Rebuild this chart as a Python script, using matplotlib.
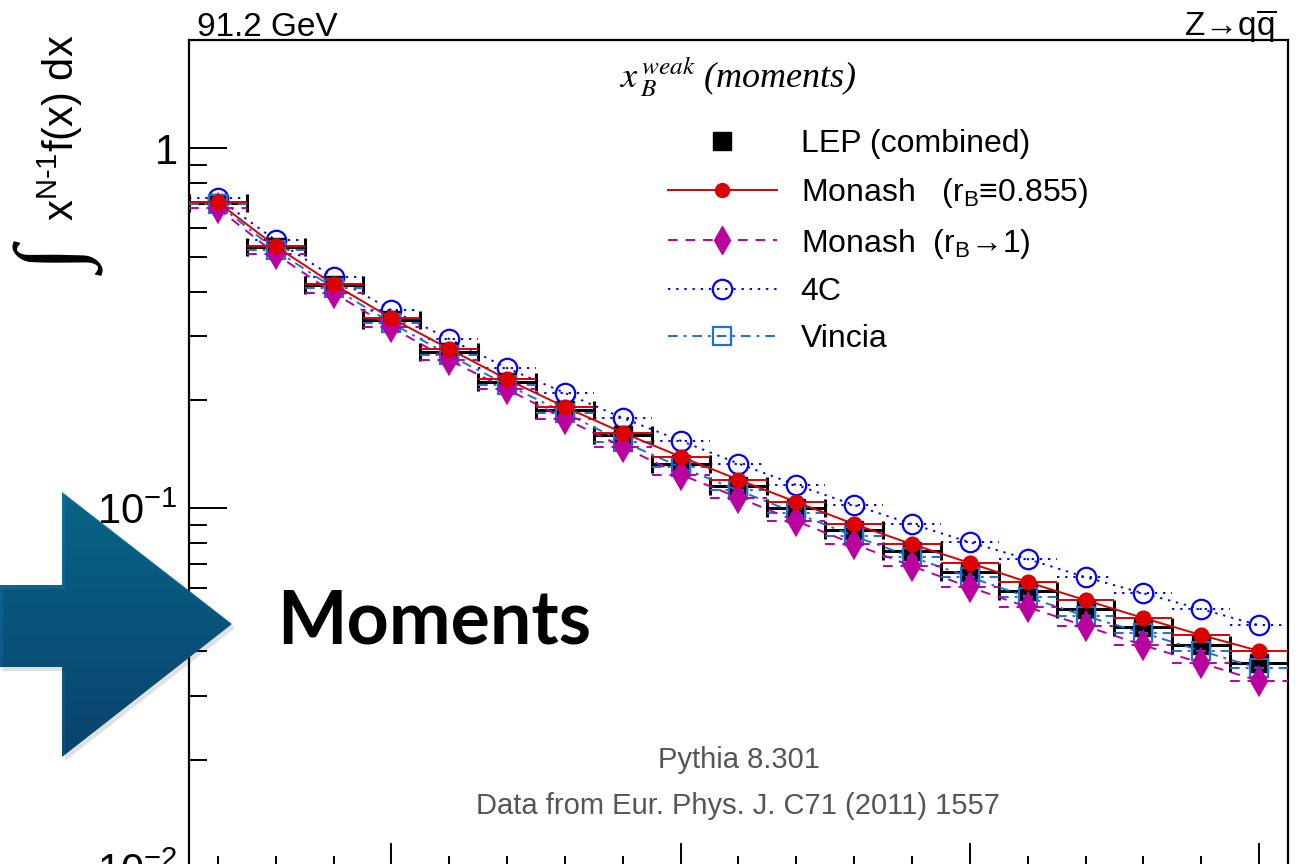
import numpy as np
import matplotlib
matplotlib.use('Agg')
import matplotlib.pyplot as plt
from matplotlib.lines import Line2D
from matplotlib.patches import Polygon
from matplotlib.colors import LinearSegmentedColormap
from matplotlib.ticker import FixedLocator, FixedFormatter, LogLocator, NullFormatter, MultipleLocator

plt.rcParams['font.family'] = ['Liberation Sans', 'DejaVu Sans']
plt.rcParams['mathtext.fontset'] = 'custom'
plt.rcParams['mathtext.rm'] = 'Liberation Sans'
plt.rcParams['mathtext.it'] = 'Liberation Sans:italic'
plt.rcParams['mathtext.bf'] = 'Liberation Sans:bold'
plt.rcParams['mathtext.sf'] = 'Liberation Sans'
plt.rcParams['mathtext.default'] = 'regular'

# moment number N and measured / predicted integrals of x^(N-1) f(x)
moment_n = [2, 3, 4, 5, 6, 7, 8, 9, 10, 11, 12, 13, 14, 15, 16, 17, 18, 19, 20]
lep = [0.704, 0.531, 0.416, 0.333, 0.271, 0.224, 0.188, 0.160, 0.133, 0.115,
       0.100, 0.0869, 0.0760, 0.0664, 0.0588, 0.0524, 0.0467, 0.0416, 0.0371]
monash = [0.708, 0.534, 0.419, 0.337, 0.277, 0.228, 0.191, 0.162, 0.139, 0.120,
          0.104, 0.0903, 0.0794, 0.0704, 0.0623, 0.0555, 0.0495, 0.0444, 0.0401]
monash_rb1 = [0.681, 0.508, 0.396, 0.318, 0.258, 0.214, 0.177, 0.148, 0.124, 0.107,
              0.0920, 0.0794, 0.0690, 0.0603, 0.0531, 0.0470, 0.0416, 0.0371, 0.0331]
tune_4c = [0.726, 0.555, 0.438, 0.355, 0.295, 0.245, 0.209, 0.178, 0.154, 0.133,
           0.116, 0.102, 0.0903, 0.0804, 0.0722, 0.0643, 0.0580, 0.0524, 0.0473]
vincia = [0.699, 0.521, 0.409, 0.327, 0.266, 0.220, 0.184, 0.153, 0.130, 0.112,
          0.0968, 0.0836, 0.0731, 0.0643, 0.0566, 0.0501, 0.0450, 0.0401, 0.0359]
bin_half = 0.5

RED = '#dd0000'
MAGENTA = '#bb00a0'
BLUE = '#0000ff'
LBLUE = '#1f6fd6'

W, H = 1306, 864
fig = plt.figure(figsize=(W / 100, H / 100), dpi=100)
ax = fig.add_axes([189 / W, -4 / H, 1099 / W, 828 / H])


def draw_mc(y, color, ls, marker, ms, mfc, z):
    eb = ax.errorbar(moment_n, y, xerr=bin_half, fmt=marker, color=color, ms=ms,
                     mfc=mfc, mec=color, mew=1.6, elinewidth=1.4, capsize=0, zorder=z)
    eb[2][0].set_linestyle(ls)
    ax.plot(moment_n, y, ls=ls, color=color, lw=1.4, zorder=z)


draw_mc(tune_4c, BLUE, (0, (1.2, 3.0)), 'o', 14, 'none', 2)
ax.errorbar(moment_n, lep, xerr=bin_half, fmt='s', color='black', ms=12.5,
            elinewidth=2.2, capsize=6.5, capthick=2.2, zorder=3)
draw_mc(vincia, LBLUE, (0, (5, 3, 1.5, 3)), 's', 13.5, 'none', 4)
draw_mc(monash_rb1, MAGENTA, (0, (5, 4)), 'd', 14, MAGENTA, 5)
draw_mc(monash, RED, '-', 'o', 10, RED, 6)

ax.set_yscale('log')
ax.set_ylim(0.01, 2.0)
ax.set_xlim(1.5, 20.5)
ax.yaxis.set_major_locator(FixedLocator([0.01, 0.1, 1]))
ax.yaxis.set_major_formatter(FixedFormatter([r'$10^{-2}$', r'$10^{-1}$', '1']))
ax.yaxis.set_minor_locator(LogLocator(base=10, subs=np.arange(2, 10)))
ax.yaxis.set_minor_formatter(NullFormatter())
ax.xaxis.set_major_locator(FixedLocator([5, 10, 15, 20]))
ax.xaxis.set_minor_locator(MultipleLocator(1))
ax.xaxis.set_major_formatter(NullFormatter())
ax.tick_params(axis='y', which='major', direction='in', length=27, width=1.4,
               labelsize=30, pad=8, right=False)
ax.tick_params(axis='y', which='minor', direction='in', length=13, width=1.4, right=False)
ax.tick_params(axis='x', which='major', direction='in', length=18, width=1.4, top=False)
ax.tick_params(axis='x', which='minor', direction='in', length=9, width=1.4, top=False)
for sp in ax.spines.values():
    sp.set_linewidth(1.6)

handles = [
    Line2D([], [], ls='none', marker='s', color='black', ms=12.5),
    Line2D([], [], ls='-', color=RED, marker='o', ms=10, lw=1.4),
    Line2D([], [], ls=(0, (5, 4)), color=MAGENTA, marker='d', ms=14, lw=1.4),
    Line2D([], [], ls=(0, (1.2, 3.0)), color=BLUE, marker='o', ms=14, mfc='none', mew=1.6, lw=1.4),
    Line2D([], [], ls=(0, (5, 3, 1.5, 3)), color=LBLUE, marker='s', ms=13.5, mfc='none', mew=1.6, lw=1.4),
]
labels = ['LEP (combined)', r'Monash   (r$_B$≡0.855)', r'Monash  (r$_B$→1)', '4C', 'Vincia']
ax.legend(handles, labels, loc='upper left', bbox_to_anchor=(0.436, 0.892), frameon=False,
          fontsize=23, handlelength=3.4, handletextpad=0.75, labelspacing=0.52,
          borderpad=0, borderaxespad=0)

ax.text(0.5, 0.955, r'$\mathit{x}^{\,\mathit{weak}}_{\,\mathit{B}}$ (moments)', transform=ax.transAxes,
        ha='center', va='center', fontsize=26, family='Liberation Serif', style='italic',
        math_fontfamily='stix')
ax.text(0.5, 0.130, 'Pythia 8.301', transform=ax.transAxes, ha='center', va='center',
        fontsize=21, color='#555555')
ax.text(0.5, 0.075, 'Data from Eur. Phys. J. C71 (2011) 1557', transform=ax.transAxes,
        ha='center', va='center', fontsize=21, color='#555555')

fig.text(197 / W, 1 - 36 / H, '91.2 GeV', fontsize=24, ha='left', va='baseline')
fig.text(1277 / W, 1 - 36 / H, r'Z→q$\overline{q}$', fontsize=24, ha='right', va='baseline')

# y axis title, ROOT style at the top of the axis
fig.text(60 / W, 1 - 35 / H, 'x$^{N\u20101}$f(x) dx', rotation=90, fontsize=30,
         ha='center', va='top')
fig.text(64 / W, 1 - 262 / H, '∫', rotation=90, fontsize=66, fontweight='bold',
         family=['Liberation Serif', 'DejaVu Sans'], ha='center', va='center')

# slide overlay: arrow and caption
overlay = fig.add_axes([0, 0, 1, 1], zorder=10)
overlay.axis('off')
arrow_xy = [(0, 585), (62, 585), (62, 492), (232, 624), (62, 757), (62, 667), (0, 667)]
shadow = Polygon([(x + 3, y + 4) for x, y in arrow_xy], closed=True, fc='black',
                 alpha=0.12, ec='none')
overlay.add_patch(shadow)
arrow = Polygon(arrow_xy, closed=True, fc='none', ec='none')
overlay.add_patch(arrow)
grad = np.linspace(0, 1, 256).reshape(-1, 1)
cmap = LinearSegmentedColormap.from_list('arrow', ['#0a7299', '#0c4c7d'])
img = overlay.imshow(grad, cmap=cmap, extent=(0, 240, 757, 492), aspect='auto')
img.set_clip_path(arrow)
overlay.set_xlim(0, W)
overlay.set_ylim(H, 0)

fig.text(277 / W, 1 - 644 / H, 'Moments', fontsize=53, family=['Lato', 'DejaVu Sans'],
         fontweight='bold', ha='left', va='baseline', zorder=11)

fig.savefig('out.png', dpi=100)
